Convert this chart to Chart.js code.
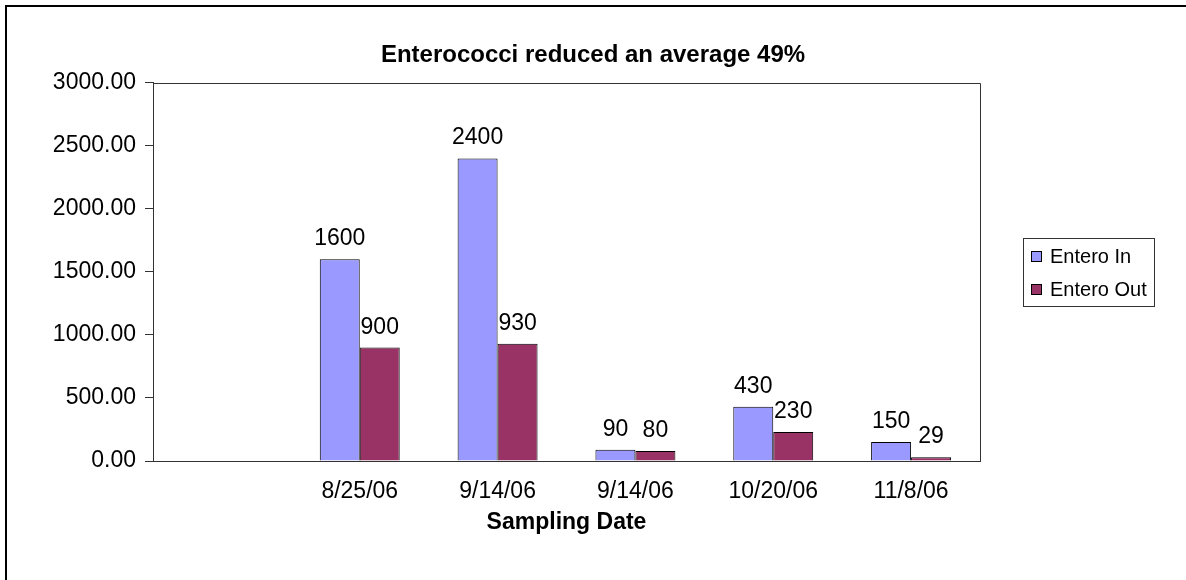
<!DOCTYPE html>
<html>
<head>
<meta charset="utf-8">
<title>Enterococci</title>
<script src="https://cdn.jsdelivr.net/npm/chart.js@4/dist/chart.umd.min.js"></script>
<style>
  html, body { margin: 0; padding: 0; background: #fff; }
  #chart { display: block; }
</style>
</head>
<body>
<canvas id="chart" width="1186" height="580"></canvas>
<script>
// data
const dates = ["", "8/25/06", "9/14/06", "9/14/06", "10/20/06", "11/8/06"];
const enteroIn = [null, 1600, 2400, 90, 430, 150];
const enteroOut = [null, 900, 930, 80, 230, 29];
const yTicks = [0, 500, 1000, 1500, 2000, 2500, 3000];

const FONT = "'Liberation Sans', Arial, sans-serif";

// black frame on the left and top edge of the page
const framePlugin = {
  id: "frame",
  beforeDraw(chart) {
    const ctx = chart.ctx;
    ctx.save();
    ctx.fillStyle = "#fff";
    ctx.fillRect(0, 0, chart.width, chart.height);
    ctx.fillStyle = "#000";
    ctx.fillRect(5, 5, 2, chart.height - 5);
    ctx.fillRect(5, 5, chart.width - 5, 2);
    ctx.restore();
  },
  afterDatasetsDraw(chart) {
    // plot area outline (top + right sides)
    const a = chart.chartArea;
    const ctx = chart.ctx;
    ctx.save();
    ctx.strokeStyle = "#333";
    ctx.lineWidth = 1;
    ctx.beginPath();
    ctx.moveTo(Math.round(a.left) + 0.5, Math.round(a.top) + 0.5);
    ctx.lineTo(Math.round(a.right) + 0.5, Math.round(a.top) + 0.5);
    ctx.lineTo(Math.round(a.right) + 0.5, Math.round(a.bottom) + 0.5);
    ctx.stroke();
    ctx.restore();
  },
};

// value labels above each bar
const valueLabels = {
  id: "valueLabels",
  afterDatasetsDraw(chart) {
    const ctx = chart.ctx;
    ctx.save();
    ctx.font = `23px ${FONT}`;
    ctx.fillStyle = "#000";
    ctx.textAlign = "center";
    ctx.textBaseline = "alphabetic";
    chart.data.datasets.forEach((ds, i) => {
      chart.getDatasetMeta(i).data.forEach((bar, j) => {
        if (ds.data[j] == null) return;
        ctx.fillText(String(ds.data[j]), bar.x, bar.y - 14);
      });
    });
    ctx.restore();
  },
};

// boxed legend on the right, like the original
const boxLegend = {
  id: "boxLegend",
  afterDraw(chart) {
    const ctx = chart.ctx;
    const x = 1023, y = 238, w = 131, h = 68;
    ctx.save();
    ctx.strokeStyle = "#333";
    ctx.lineWidth = 1;
    ctx.strokeRect(x + 0.5, y + 0.5, w, h);
    ctx.font = `20px ${FONT}`;
    ctx.textBaseline = "middle";
    ctx.textAlign = "left";
    chart.data.datasets.forEach((ds, i) => {
      const cy = y + 18 + i * 33;
      ctx.fillStyle = ds.backgroundColor;
      ctx.fillRect(x + 8, cy - 5, 10, 10);
      ctx.strokeStyle = "#000";
      ctx.strokeRect(x + 8.5, cy - 4.5, 10, 10);
      ctx.fillStyle = "#000";
      ctx.fillText(ds.label, x + 27, cy + 1);
    });
    ctx.restore();
  },
};

new Chart(document.getElementById("chart"), {
  type: "bar",
  data: {
    labels: dates,
    datasets: [
      {
        label: "Entero In",
        data: enteroIn,
        backgroundColor: "#9999FF",
        borderColor: "#000",
        borderWidth: 1,
        borderSkipped: "bottom",
      },
      {
        label: "Entero Out",
        data: enteroOut,
        backgroundColor: "#993366",
        borderColor: "#000",
        borderWidth: 1,
        borderSkipped: "bottom",
      },
    ],
  },
  options: {
    responsive: false,
    animation: false,
    devicePixelRatio: 1,
    categoryPercentage: 0.58,
    barPercentage: 1,
    layout: { padding: 0 },
    plugins: {
      legend: { display: false },
      tooltip: { enabled: false },
      title: {
        display: true,
        text: "Enterococci reduced an average 49%",
        color: "#000",
        font: { family: FONT, size: 24, weight: "bold" },
        padding: { top: 41, bottom: 13 },
      },
    },
    scales: {
      x: {
        grid: { display: false, drawTicks: false },
        border: { display: true, color: "#333", width: 1 },
        ticks: {
          color: "#000",
          font: { family: FONT, size: 23 },
          padding: 17,
          maxRotation: 0,
          autoSkip: false,
        },
        title: {
          display: true,
          text: "Sampling Date",
          color: "#000",
          font: { family: FONT, size: 23, weight: "bold" },
          padding: { top: 0, bottom: 44 },
        },
        afterFit(scale) {
          scale.height = 119;
        },
      },
      y: {
        min: 0,
        max: 3000,
        afterBuildTicks(scale) {
          scale.ticks = yTicks.map((v) => ({ value: v }));
        },
        grid: {
          drawOnChartArea: false,
          drawTicks: true,
          tickLength: 8,
          color: "#333",
        },
        border: { display: true, color: "#333", width: 1 },
        ticks: {
          color: "#000",
          font: { family: FONT, size: 23 },
          padding: 9,
          callback: (v) => Number(v).toFixed(2),
        },
        afterFit(scale) {
          scale.width = 153;
        },
      },
      // empty right-hand axis that only reserves room for the legend
      legendSpace: {
        type: "linear",
        position: "right",
        grid: { display: false },
        border: { display: false },
        ticks: { display: false },
        afterFit(scale) {
          scale.width = 206;
        },
      },
    },
  },
  plugins: [framePlugin, valueLabels, boxLegend],
});
</script>
</body>
</html>
